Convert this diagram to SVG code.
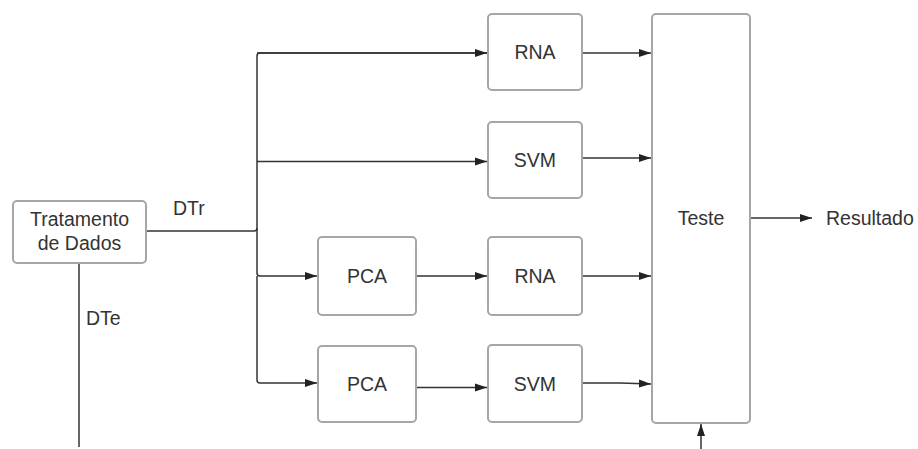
<svg xmlns="http://www.w3.org/2000/svg" width="918" height="449" viewBox="0 0 918 449">
<defs>
<marker id="ah" viewBox="0 0 12 10" refX="12" refY="5" markerWidth="12" markerHeight="10" markerUnits="userSpaceOnUse" orient="auto">
<path d="M0,1 L12,5 L0,9 Z" fill="#222"/>
</marker>
<style>
.box{fill:#fff;stroke:#a6a6a6;stroke-width:2}
.t{font-family:"Liberation Sans",Arial,sans-serif;font-size:19.5px;fill:#333;text-anchor:middle}
.l{font-family:"Liberation Sans",Arial,sans-serif;font-size:19.5px;fill:#333}
.c{fill:none;stroke:#333;stroke-width:1.5}
.a{fill:none;stroke:#333;stroke-width:1.5;marker-end:url(#ah)}
</style>
</defs>
<rect width="918" height="449" fill="#fff"/>
<g id="connectors">
<path class="c" d="M146,231 H254 Q257,231 257,228 V56 Q257,53 260,53 H487"/>
<path class="a" d="M257,53 H487"/>
<path class="a" d="M257,161.5 H487"/>
<path class="a" d="M257,228 V273 Q257,276 260,276 H317"/>
<path class="a" d="M257,276 V380 Q257,383 260,383 H317"/>
<path class="a" d="M417,276 H487"/>
<path class="a" d="M417,387.5 H487"/>
<path class="a" d="M583,53 H651"/>
<path class="a" d="M583,158 H651"/>
<path class="a" d="M583,276 H651"/>
<path class="a" d="M583,383 H620 L651,384"/>
<path class="a" d="M751,218 H812"/>
<path class="a" d="M701,449 V424"/>
<path class="c" d="M79,263 V447"/>
<text class="l" x="173" y="215">DTr</text>
<text class="l" x="86" y="325">DTe</text>
</g>
<g id="tratamento"><rect class="box" x="13" y="201" width="133" height="62" rx="4"/><text class="t" x="79.5" y="226">Tratamento</text><text class="t" x="79.5" y="250">de Dados</text></g>
<g id="rna1"><rect class="box" x="488" y="14" width="94" height="76" rx="4"/><text class="t" x="535" y="59">RNA</text></g>
<g id="svm1"><rect class="box" x="488" y="122" width="94" height="76" rx="4"/><text class="t" x="535" y="167">SVM</text></g>
<g id="pca1"><rect class="box" x="318" y="237" width="98" height="78" rx="4"/><text class="t" x="367" y="283">PCA</text></g>
<g id="rna2"><rect class="box" x="488" y="237" width="94" height="78" rx="4"/><text class="t" x="535" y="283">RNA</text></g>
<g id="pca2"><rect class="box" x="318" y="346" width="98" height="76" rx="4"/><text class="t" x="367" y="391">PCA</text></g>
<g id="svm2"><rect class="box" x="488" y="345" width="94" height="77" rx="4"/><text class="t" x="535" y="391">SVM</text></g>
<g id="teste"><rect class="box" x="652" y="14" width="98" height="409" rx="4"/><text class="t" x="701" y="225">Teste</text></g>
<g id="resultado"><text class="l" x="826" y="225">Resultado</text></g>
</svg>
